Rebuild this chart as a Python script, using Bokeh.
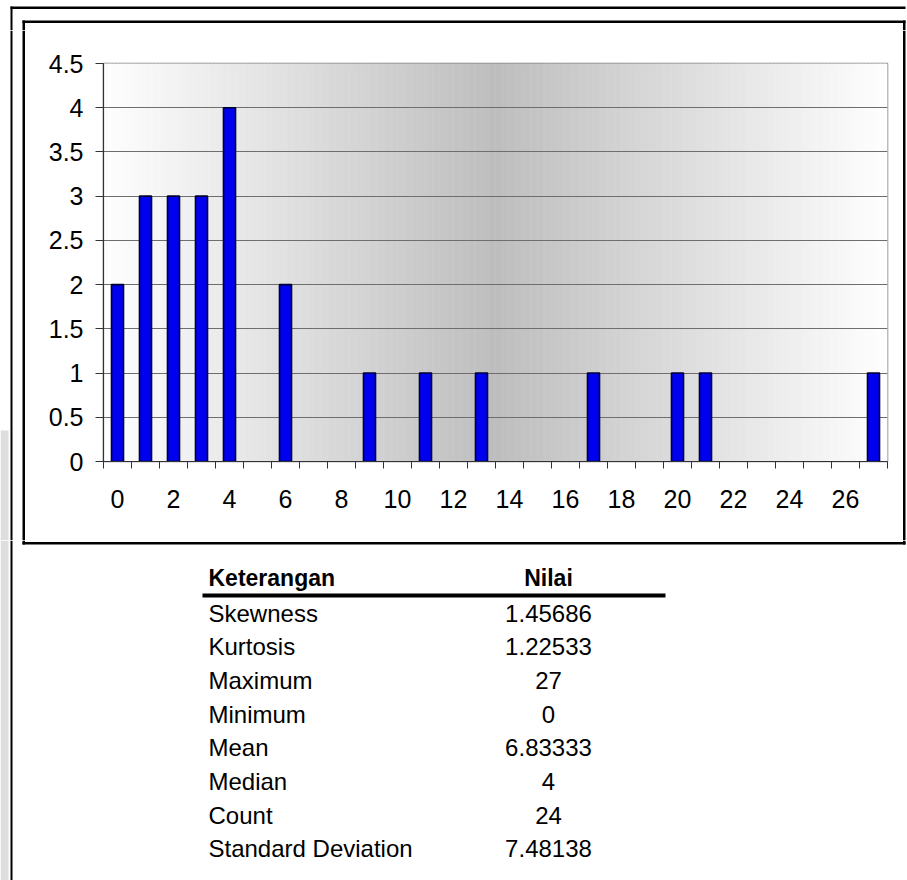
from bokeh.plotting import figure
from bokeh.layouts import column, row
from bokeh.models import Range1d, FixedTicker, NumeralTickFormatter
from bokeh.core.properties import value
from bokeh.embed import file_html
from bokeh.resources import INLINE
import numpy as np

# ---- data: frequency of each score ----
scores = list(range(28))
frequency = [2, 3, 3, 3, 4, 0, 2, 0, 0, 1, 0, 1, 0, 1, 0, 0, 0, 1, 0, 0, 1, 1, 0, 0, 0, 0, 0, 1]
x_tick_values = list(range(0, 27, 2))
y_tick_values = [0, 0.5, 1, 1.5, 2, 2.5, 3, 3.5, 4, 4.5]

# ---- descriptive statistics table ----
table_header = ["Keterangan", "Nilai"]
stat_names = ["Skewness", "Kurtosis", "Maximum", "Minimum", "Mean", "Median",
              "Count", "Standard Deviation"]
stat_values = ["1.45686", "1.22533", "27", "0", "6.83333", "4", "24", "7.48138"]

FONT = "Liberation Sans"
W, H = 907, 880
TOP_H = 30          # strip above the chart
LEFT_W = 30         # strip left of the chart
RIGHT_X = 895       # chart panel ends here
CHART_B = 540       # chart panel bottom
PL, PR, PT, PB = 103, 887, 63, 461   # plot-area edges on the page


def panel(x0, x1, y0, y1):
    """A blank figure whose data units are page pixels (y grows downward)."""
    f = figure(width=x1 - x0, height=y1 - y0,
               x_range=Range1d(x0, x1), y_range=Range1d(y1, y0),
               output_backend="svg", toolbar_location=None, title=None,
               x_axis_location=None, y_axis_location=None, min_border=0)
    f.frame_align = False
    f.grid.visible = False
    f.outline_line_color = None
    f.background_fill_color = "white"
    f.border_fill_color = "white"
    return f


def rects(f, boxes, color="black"):
    f.quad(left=[b[0] for b in boxes], right=[b[1] for b in boxes],
           top=[b[2] for b in boxes], bottom=[b[3] for b in boxes],
           fill_color=color, line_color=None)


# ---------------- chart ----------------
p = figure(width=RIGHT_X - LEFT_W, height=CHART_B - TOP_H,
           x_range=Range1d(-0.5, 27.5), y_range=Range1d(0, 4.5),
           output_backend="svg", toolbar_location=None, title=None,
           min_border_left=PL - LEFT_W, min_border_right=RIGHT_X - PR,
           min_border_top=PT - TOP_H, min_border_bottom=CHART_B - PB)
p.frame_align = False
p.background_fill_color = "white"
p.border_fill_color = "white"
p.outline_line_color = "#808080"
p.outline_line_width = 1.5

# plot-area background: grey band darkest in the middle, white at both sides
n_strips = 224
edges = np.linspace(-0.5, 27.5, n_strips + 1)
mids = (edges[:-1] + edges[1:]) / 2
t = np.abs(mids - 13.5) / 14.0
g = (190 + (255 - 190) * t).astype(int)
colors = ["#%02x%02x%02x" % (v, v, v) for v in g]
bg = p.quad(left=edges[:-1], right=edges[1:], bottom=0, top=4.5,
            fill_color=colors, line_color=colors, line_width=0.6)
bg.level = "image"

# bars
bx = [s for s, f in zip(scores, frequency) if f > 0]
bt = [f for f in frequency if f > 0]
p.vbar(x=bx, top=bt, bottom=0, width=0.43, fill_color="#0000f0",
       line_color="#000030", line_width=1.6)

# grid
p.xgrid.visible = False
p.ygrid.ticker = FixedTicker(ticks=y_tick_values)
p.ygrid.grid_line_color = "#6e6e6e"
p.ygrid.grid_line_width = 1.2

# x axis: tick marks between categories, labels on even scores
xa = p.xaxis[0]
xa.ticker = FixedTicker(ticks=x_tick_values, minor_ticks=[s - 0.5 for s in scores] + [27.5])
xa.major_tick_out = 0
xa.major_tick_in = 0
xa.minor_tick_out = 7
xa.minor_tick_in = 0
xa.minor_tick_line_color = "#333333"
xa.axis_line_color = "#333333"
xa.axis_line_width = 1.2
xa.major_label_standoff = 21
xa.major_label_text_font = FONT
xa.major_label_text_font_size = "25px"
xa.major_label_text_color = "black"

ya = p.yaxis[0]
ya.ticker = FixedTicker(ticks=y_tick_values, minor_ticks=[])
ya.formatter = NumeralTickFormatter(format="0.[0]")
ya.major_tick_out = 8
ya.major_tick_in = 0
ya.minor_tick_out = 0
ya.minor_tick_in = 0
ya.major_tick_line_color = "#333333"
ya.axis_line_color = "#333333"
ya.axis_line_width = 1.2
ya.major_label_standoff = 12
ya.major_label_text_font = FONT
ya.major_label_text_font_size = "25px"
ya.major_label_text_color = "black"

# ---------------- page furniture around the chart ----------------
top = panel(0, W, 0, TOP_H)
rects(top, [(10, 905, 6, 8.5),        # page rule
            (10, 12, 6, TOP_H),       # page rule, left
            (22, 905, 20, 22.5),      # chart frame top
            (22, 24.5, 20, TOP_H),
            (902.5, 905, 20, TOP_H)])

left = panel(0, LEFT_W, TOP_H, CHART_B)
rects(left, [(0, 8, 430, CHART_B)], color="#dedede")
rects(left, [(10, 12, TOP_H, CHART_B), (22, 24.5, TOP_H, CHART_B)])

right = panel(RIGHT_X, W, TOP_H, CHART_B)
rects(right, [(902.5, 905, TOP_H, CHART_B)])

# ---------------- statistics table ----------------
bottom = panel(0, W, CHART_B, H)
rects(bottom, [(0, 8, CHART_B, H)], color="#dedede")
rects(bottom, [(10, 12, CHART_B, H),
               (22, 24.5, CHART_B, 544),
               (902.5, 905, CHART_B, 544),
               (22, 905, 541.5, 544),     # chart frame bottom
               (202, 665, 593, 597)])     # header rule

col_label_x = 208
col_value_x = 548
header_y = 577
bottom.text(x=[col_label_x], y=[header_y], text=[table_header[0]],
            text_font=value(FONT), text_font_size=value("23px"), text_font_style="bold",
            text_align="left", text_baseline="middle", text_color="black")
bottom.text(x=[col_value_x], y=[header_y], text=[table_header[1]],
            text_font=value(FONT), text_font_size=value("23px"), text_font_style="bold",
            text_align="center", text_baseline="middle", text_color="black")

row_y0, row_step = 612.5, 33.7
row_y = [row_y0 + i * row_step for i in range(len(stat_names))]
bottom.text(x=[col_label_x] * len(stat_names), y=row_y, text=stat_names,
            text_font=value(FONT), text_font_size=value("24px"),
            text_align="left", text_baseline="middle", text_color="black")
bottom.text(x=[col_value_x] * len(stat_values), y=row_y, text=stat_values,
            text_font=value(FONT), text_font_size=value("24px"),
            text_align="center", text_baseline="middle", text_color="black")

page = column(top, row(left, p, right, spacing=0), bottom, spacing=0)
open("out.html", "w").write(file_html(page, INLINE))
